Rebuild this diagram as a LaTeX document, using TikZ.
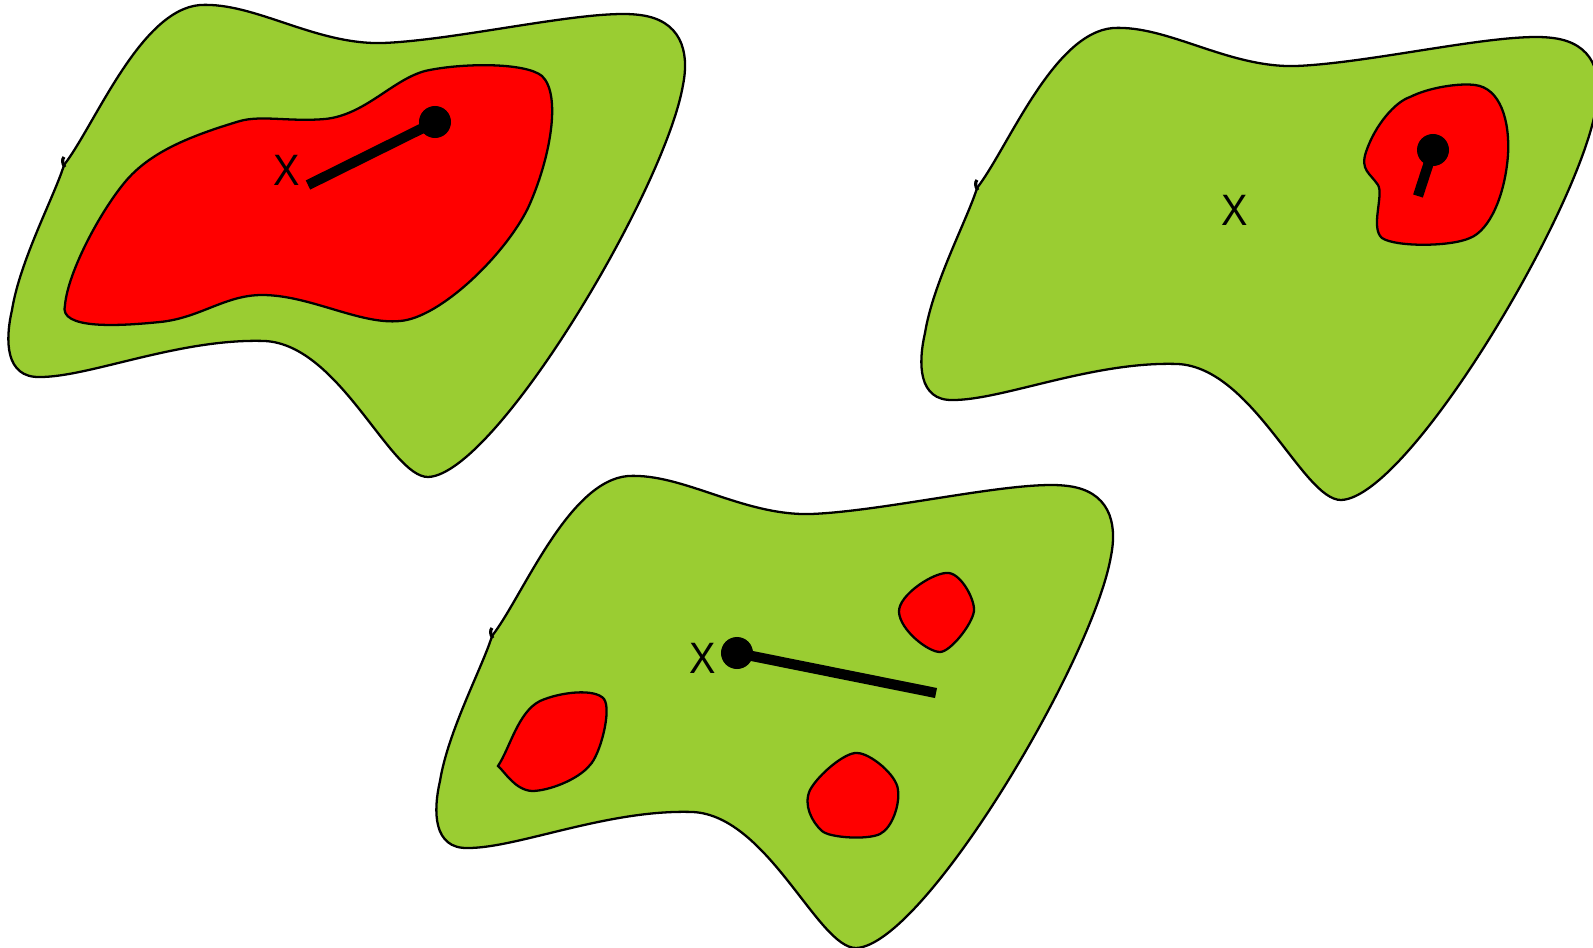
\documentclass[tikz,border=0pt]{standalone}
\usepackage{fontspec}
\setmainfont{Liberation Sans}
\definecolor{blobgreen}{RGB}{154,205,50}
\definecolor{blobred}{RGB}{255,0,0}
\tikzset{
  greenblob/.style={fill=blobgreen, draw=black, line width=0.65pt},
  redblob/.style={fill=blobred, draw=black, line width=0.65pt},
  bar/.style={line width=2.9pt, black, line cap=butt},
  dot/.style={circle, fill=black, inner sep=0pt, minimum size=0.32cm},
  xlabel/.style={inner sep=0pt, font=\fontsize{12.5}{14}\selectfont, xscale=0.9}
}
\newcommand{\greenshape}{%
  (64,165) .. controls (95,125) and (140,10) .. (200,5)
  .. controls (255,2) and (315,45) .. (383,43)
  .. controls (460,40) and (590,8) .. (640,15)
  .. controls (680,20) and (690,50) .. (683,85)
  .. controls (665,190) and (495,475) .. (428,477)
  .. controls (390,477) and (340,345) .. (265,341)
  .. controls (180,338) and (90,377) .. (40,377)
  .. controls (5,378) and (5,340) .. (12,310)
  .. controls (20,260) and (55,195) .. (64,165) -- cycle}
\newcommand{\greentick}{(65,167) .. controls (62,164) and (62,159) .. (64,157)}
\begin{document}
\begin{tikzpicture}[x=0.01cm, y=-0.01cm]
\useasboundingbox (0,0) rectangle (1593,948);

% ---------- blob 1 (top left)
\draw[greenblob] \greenshape;
\draw[line width=0.9pt] \greentick;
\draw[redblob] (65,305) .. controls (58,330) and (120,326) .. (160,322)
  .. controls (200,318) and (225,295) .. (262,295)
  .. controls (310,295) and (360,325) .. (400,321)
  .. controls (440,318) and (505,255) .. (528,208)
  .. controls (550,160) and (562,95) .. (542,76)
  .. controls (525,62) and (460,63) .. (425,71)
  .. controls (392,80) and (365,115) .. (325,119)
  .. controls (290,122) and (262,115) .. (240,121)
  .. controls (190,136) and (150,152) .. (125,182)
  .. controls (100,212) and (68,272) .. (65,305) -- cycle;
\node[xlabel] (x1) at (287,170) {X};
\node[dot] (d1) at (435,122) {};
\coordinate (e1) at (308,185);
\draw[bar] (e1) -- (d1.center);

% ---------- blob 2 (top right)
\begin{scope}[shift={(913,23)}]
  \draw[greenblob] \greenshape;
  \draw[line width=0.9pt] \greentick;
\end{scope}
\draw[redblob] (1475,85) .. controls (1500,88) and (1510,120) .. (1508,155)
  .. controls (1505,195) and (1490,230) .. (1470,238)
  .. controls (1450,247) and (1395,247) .. (1382,238)
  .. controls (1370,228) and (1384,195) .. (1378,185)
  .. controls (1370,173) and (1360,170) .. (1366,152)
  .. controls (1375,125) and (1395,102) .. (1410,97)
  .. controls (1430,87) and (1460,83) .. (1475,85) -- cycle;
\node[xlabel] (x2) at (1235,210) {X};
\node[dot] (d2) at (1433,150) {};
\coordinate (e2) at (1418,196);
\draw[bar] (e2) -- (d2.center);

% ---------- blob 3 (bottom)
\begin{scope}[shift={(428,471)}]
  \draw[greenblob] \greenshape;
  \draw[line width=0.9pt] \greentick;
\end{scope}
\draw[redblob] (949,573) .. controls (962,575) and (975,600) .. (974,611)
  .. controls (972,625) and (950,652) .. (940,652)
  .. controls (928,652) and (900,630) .. (899,612)
  .. controls (898,595) and (935,571) .. (949,573) -- cycle;
\draw[redblob] (498,766) .. controls (510,748) and (518,712) .. (540,701)
  .. controls (560,692) and (595,688) .. (604,699)
  .. controls (612,710) and (600,755) .. (590,765)
  .. controls (578,780) and (548,791) .. (532,791)
  .. controls (515,790) and (505,772) .. (498,766) -- cycle;
\draw[redblob] (857,753) .. controls (870,753) and (897,775) .. (898,790)
  .. controls (900,805) and (892,828) .. (880,834)
  .. controls (868,840) and (830,838) .. (822,831)
  .. controls (812,822) and (803,805) .. (810,790)
  .. controls (818,775) and (845,752) .. (857,753) -- cycle;
\node[xlabel] (x3) at (703,658) {X};
\node[dot] (d3) at (737,653) {};
\coordinate (e3) at (936,693);
\draw[bar] (e3) -- (d3.center);
\end{tikzpicture}
\end{document}
